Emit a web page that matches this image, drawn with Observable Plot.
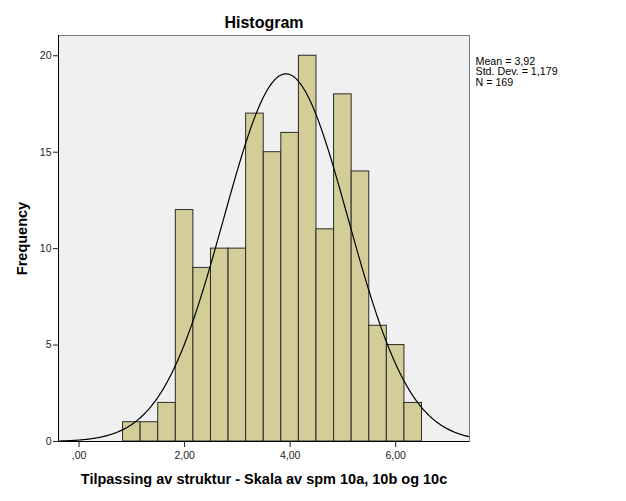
<!DOCTYPE html>
<html><head><meta charset="utf-8">
<script src="https://cdn.jsdelivr.net/npm/d3@7"></script>
<script src="https://cdn.jsdelivr.net/npm/@observablehq/plot@0.6"></script>
<style>body{margin:0;background:#fff;font-family:"Liberation Sans",Arial,sans-serif}</style>
</head><body><div id="chart"></div>
<script>
const binStart = 0.8333;
const binWidth = 1 / 3;
const counts = [1, 1, 2, 12, 9, 10, 10, 17, 15, 16, 20, 11, 18, 14, 6, 5, 2];
const mean = 3.92;
const stdDev = 1.179;
const n = 169;
const xTicks = [0, 2, 4, 6];
const xTickLabels = [",00", "2,00", "4,00", "6,00"];
const yTicks = [0, 5, 10, 15, 20];
const statsLines = ["Mean = 3,92", "Std. Dev. = 1,179", "N = 169"];

const bars = counts.map((c, i) => ({x1: binStart + i * binWidth, x2: binStart + (i + 1) * binWidth, y: c}));
const xDomain = [-0.39, 7.4];
const curve = d3.range(xDomain[0], xDomain[1] + 0.001, 0.02).map(x => ({
  x, y: n * binWidth * Math.exp(-0.5 * ((x - mean) / stdDev) ** 2) / (stdDev * Math.sqrt(2 * Math.PI))
}));

const chart = Plot.plot({
  width: 626, height: 501,
  marginLeft: 58, marginRight: 157, marginTop: 35, marginBottom: 60,
  style: {fontFamily: '"Liberation Sans", Arial, sans-serif', background: "#fff", overflow: "visible"},
  x: {domain: xDomain, label: null},
  y: {domain: [0, 21.05], label: null},
  marks: [
    Plot.frame({fill: "#f0f0f0", stroke: "#7a7a7a"}),
    Plot.rectY(bars, {x1: "x1", x2: "x2", y: "y", fill: "#d3ce97", stroke: "#2b2b2b", strokeWidth: 1, inset: 0}),
    Plot.line(curve, {x: "x", y: "y", stroke: "#000", strokeWidth: 1.2, clip: true}),
    Plot.ruleX([xDomain[0]], {stroke: "#000"}),
    Plot.ruleY([0], {stroke: "#000"}),
    Plot.axisX({ticks: xTicks, tickFormat: d => xTickLabels[xTicks.indexOf(d)], tickSize: 6, tickPadding: 4, fontSize: 10.5, color: "#222", label: null}),
    Plot.axisY({ticks: yTicks, tickSize: 5, tickPadding: 2, fontSize: 10.5, color: "#222", label: null}),
    Plot.text(["Histogram"], {frameAnchor: "top", dy: -13, lineAnchor: "middle", fontSize: 16, fontWeight: "bold", fill: "#000"}),
    Plot.text(["Tilpassing av struktur - Skala av spm 10a, 10b og 10c"], {frameAnchor: "bottom", dy: 38, lineAnchor: "middle", fontSize: 14.5, fontWeight: "bold", fill: "#000"}),
    Plot.text(["Frequency"], {frameAnchor: "left", dx: -36, rotate: -90, textAnchor: "middle", lineAnchor: "middle", fontSize: 14.5, fontWeight: "bold", fill: "#000"}),
    Plot.text([statsLines.join("\n")], {frameAnchor: "top-right", dx: 6, dy: 22, textAnchor: "start", lineAnchor: "top", lineHeight: 0.98, fontSize: 10.7, fill: "#000"})
  ]
});
document.getElementById("chart").appendChild(chart);
</script>
</body></html>
